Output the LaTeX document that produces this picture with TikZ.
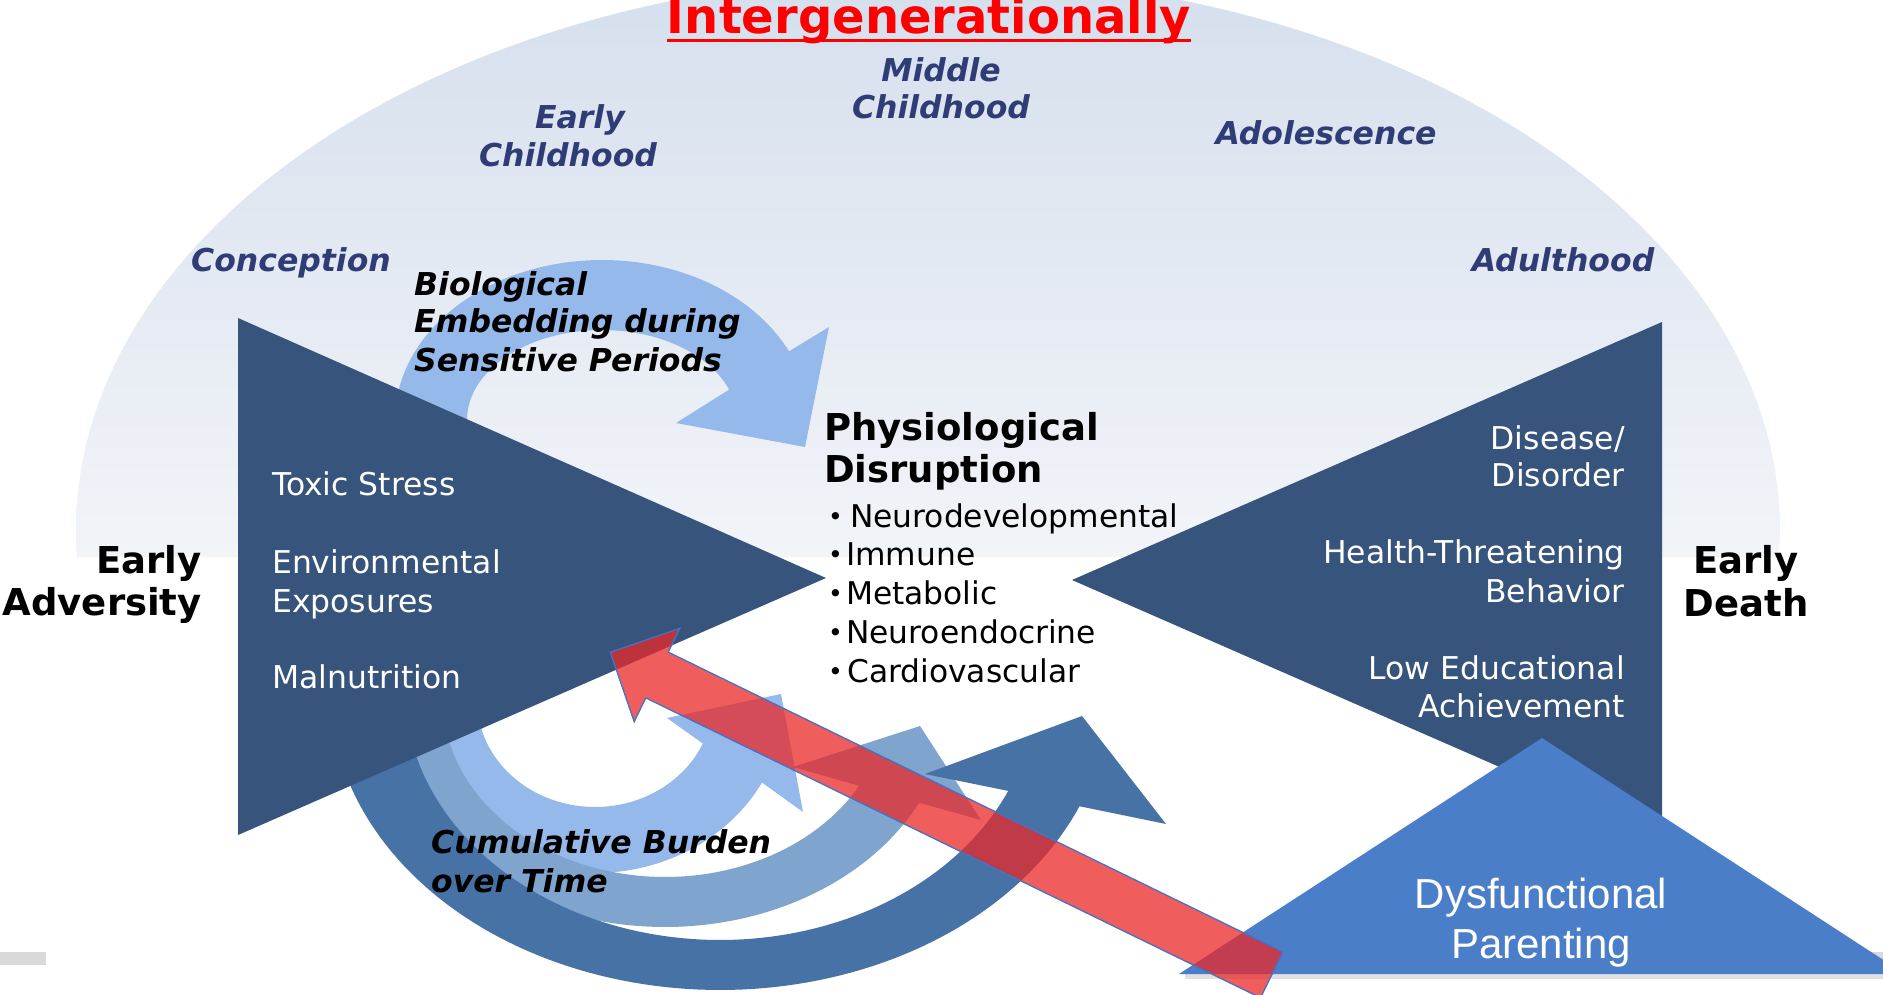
\documentclass[tikz,border=0pt]{standalone}
\usepackage{fontspec}
\setmainfont{DejaVu Sans}[ItalicFont={DejaVu Sans Oblique},BoldItalicFont={DejaVu Sans Bold Oblique}]
\newfontfamily\arialfont{Liberation Sans}
\usetikzlibrary{calc}
\definecolor{navy}{HTML}{2F3C76}
\definecolor{tri}{HTML}{37547C}
\definecolor{parent}{HTML}{4A7EC9}
\definecolor{lightarc}{HTML}{95B9EA}
\definecolor{midarc}{HTML}{7FA4CE}
\definecolor{darkarc}{HTML}{4672A6}
\definecolor{bgtop}{HTML}{D5DFED}
\definecolor{bgbot}{HTML}{F2F4F8}
\definecolor{redarrow}{RGB}{235,40,40}
\definecolor{rededge}{HTML}{4472C4}
\definecolor{bar}{HTML}{D9D9D9}
\newcommand{\bulw}[1]{\makebox[#1][l]{\hspace{2pt}\fontsize{25}{30}\selectfont\raisebox{1.5pt}{•}}}
\begin{document}
\begin{tikzpicture}[x=1pt,y=-1pt,
  stage/.style={inner sep=0pt,text=navy,font=\fontsize{31.5}{36}\selectfont\bfseries\itshape},
  blab/.style={inner sep=0pt,text=black,font=\fontsize{31.5}{36}\selectfont\bfseries\itshape},
  wlab/.style={inner sep=0pt,text=white,font=\fontsize{31.4}{36}\selectfont},
  bul/.style={inner sep=0pt,text=black,font=\fontsize{31.3}{36}\selectfont},
  head/.style={inner sep=0pt,text=black,font=\fontsize{37}{42}\selectfont\bfseries},
  plab/.style={inner sep=0pt,text=white,font=\arialfont\fontsize{42}{48}\selectfont}]
\path[use as bounding box,clip] (0,0) rectangle (1883,995);
\fill[white] (0,0) rectangle (1883,995);
% background half ellipse
\shade[top color=bgtop,bottom color=bgbot] plot[domain=177.2:362.8,samples=150] ({928+852*cos(\x)},{530+555*sin(\x)}) -- cycle;
% small gray bars
\fill[bar] (0,952) rectangle (46,965);
\fill[bar] (1850,952) rectangle (1883,961);
% Biological embedding arrow
\fill[lightarc] plot[domain=160:334.6,samples=100] ({602+207*cos(\x)},{420+160*sin(\x)})
  -- (829,327) -- (805,447) -- (676,423)
  -- plot[domain=340.3:160,samples=100] ({602+135*cos(\x)},{420+90*sin(\x)}) -- cycle;
% cumulative burden arrows
\fill[lightarc] plot[domain=190:28.5,samples=100] ({595+190*cos(\x)},{700+173*sin(\x)})
  -- (803,812) -- (781,694) -- (667,718)
  -- plot[domain=24:190,samples=100] ({595+118*cos(\x)},{700+107*sin(\x)}) -- cycle;
\fill[midarc] plot[domain=185:26.9,samples=100] ({665+285*cos(\x)},{700+227*sin(\x)})
  -- (981,820) -- (920,726) -- (793,767)
  -- plot[domain=29:185,samples=100] ({665+222*cos(\x)},{700+177*sin(\x)}) -- cycle;
\fill[darkarc] plot[domain=185:22.8,samples=100] ({720+390*cos(\x)},{690+300*sin(\x)})
  -- (1166,824) -- (1082,716) -- (925,774)
  -- plot[domain=23.8:185,samples=100] ({720+315*cos(\x)},{690+250*sin(\x)}) -- cycle;
% triangles
\fill[tri] (238,318) -- (826,578) -- (238,835) -- cycle;
\fill[tri] (1662,322) -- (1072,580) -- (1662,838) -- cycle;
\fill[black!12] (1185,974) rectangle (1883,979);
\fill[parent] (1542,738) -- (1179,974) -- (1905,974) -- cycle;
% red arrow
\fill[redarrow,fill opacity=0.75,draw=rededge,draw opacity=1,line width=1.3pt,line join=miter]
  (610.3,652.2) -- (679.8,628.3) -- (668.2,652.1) -- (1282.9,952) -- (1260.5,997.8)
  -- (645.8,697.9) -- (634.2,721.7) -- cycle;
% title
\node[anchor=base,inner sep=0pt,text=red,font=\fontsize{48}{52}\selectfont\bfseries] (title) at (929,33.5) {Intergenerationally};
\draw[red,line width=2.8pt] ($(title.base west)+(0,7.2)$) -- ($(title.base east)+(0,7.2)$);
% life stages
\node[stage,anchor=base] (mid1) at (941,82) {Middle};
\node[stage,anchor=base] (mid2) at (941,118.5) {Childhood};
\node[stage,anchor=base] (ec1) at (580,129) {Early};
\node[stage,anchor=base] (ec2) at (568,166.5) {Childhood};
\node[stage,anchor=base] (adol) at (1326,145) {Adolescence};
\node[stage,anchor=base] (conc) at (291,272) {Conception};
\node[stage,anchor=base] (adult) at (1563,272) {Adulthood};
% arrow labels
\node[blab,anchor=base west] (bio1) at (414,295) {Biological};
\node[blab,anchor=base west] (bio2) at (414,332) {Embedding during};
\node[blab,anchor=base west] (bio3) at (414,371) {Sensitive Periods};
\node[blab,anchor=base west] (cum1) at (431,853) {Cumulative Burden};
\node[blab,anchor=base west] (cum2) at (431,892) {over Time};
% physiological disruption
\node[head,anchor=base west] (phys1) at (824,440) {Physiological};
\node[head,anchor=base west] (phys2) at (824,482) {Disruption};
\node[bul,anchor=base west] (b1) at (826,527) {\bulw{24pt}Neurodevelopmental};
\node[bul,anchor=base west] (b2) at (826,565) {\bulw{20pt}Immune};
\node[bul,anchor=base west] (b3) at (826,604) {\bulw{20pt}Metabolic};
\node[bul,anchor=base west] (b4) at (826,643) {\bulw{20pt}Neuroendocrine};
\node[bul,anchor=base west] (b5) at (826,682) {\bulw{21pt}Cardiovascular};
% left triangle labels
\node[wlab,anchor=base west] (tox) at (272,495) {Toxic Stress};
\node[wlab,anchor=base west] (env1) at (272,573) {Environmental};
\node[wlab,anchor=base west] (env2) at (272,612) {Exposures};
\node[wlab,anchor=base west] (mal) at (272,688) {Malnutrition};
% right triangle labels
\node[wlab,anchor=base east] (dis1) at (1625,449) {Disease/};
\node[wlab,anchor=base east] (dis2) at (1625,486) {Disorder};
\node[wlab,anchor=base east] (hth1) at (1625,563) {Health-Threatening};
\node[wlab,anchor=base east] (hth2) at (1625,602) {Behavior};
\node[wlab,anchor=base east] (edu1) at (1625,679) {Low Educational};
\node[wlab,anchor=base east] (edu2) at (1625,717) {Achievement};
% side labels
\node[head,anchor=base east] (ea1) at (202,573) {Early};
\node[head,anchor=base east] (ea2) at (202,615) {Adversity};
\node[head,anchor=base] (ed1) at (1746,573) {Early};
\node[head,anchor=base] (ed2) at (1746,616) {Death};
% parenting
\node[plab,anchor=base] (par1) at (1541,908) {Dysfunctional};
\node[plab,anchor=base] (par2) at (1541,958) {Parenting};
\end{tikzpicture}
\end{document}
